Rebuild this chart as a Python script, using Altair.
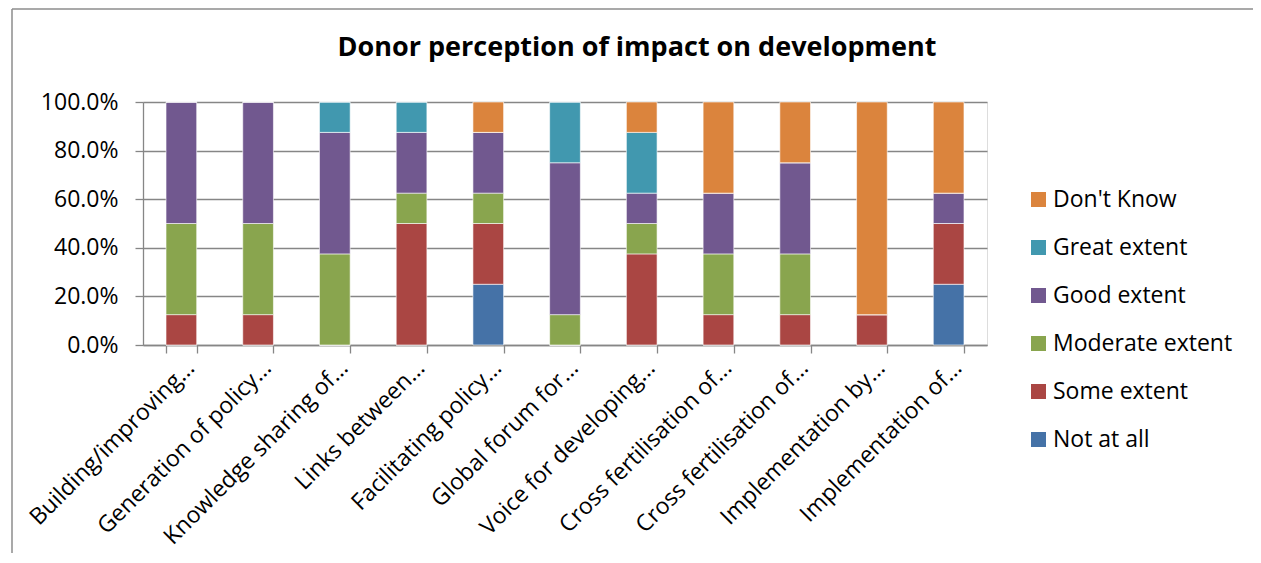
import altair as alt
import pandas as pd

categories = [
    "Building/improving...", "Generation of policy...", "Knowledge sharing of...",
    "Links between...", "Facilitating policy...", "Global forum for...",
    "Voice for developing...", "Cross fertilisation of... ", "Cross fertilisation of...",
    "Implementation by...", "Implementation of...",
]
series = ["Not at all", "Some extent", "Moderate extent", "Good extent", "Great extent", "Don't Know"]
colors = ["#4572A7", "#AA4643", "#89A54E", "#71588F", "#4198AF", "#DB843D"]

not_at_all = [0, 0, 0, 0, 25, 0, 0, 0, 0, 0, 25]
some_extent = [12.5, 12.5, 0, 50, 25, 0, 37.5, 12.5, 12.5, 12.5, 25]
moderate_extent = [37.5, 37.5, 37.5, 12.5, 12.5, 12.5, 12.5, 25, 25, 0, 0]
good_extent = [50, 50, 50, 25, 25, 62.5, 12.5, 25, 37.5, 0, 12.5]
great_extent = [0, 0, 12.5, 12.5, 0, 25, 25, 0, 0, 0, 0]
dont_know = [0, 0, 0, 0, 12.5, 0, 12.5, 37.5, 25, 87.5, 37.5]

values = [not_at_all, some_extent, moderate_extent, good_extent, great_extent, dont_know]

rows = []
for si, (s, vals) in enumerate(zip(series, values)):
    for ci, (c, v) in enumerate(zip(categories, vals)):
        rows.append({"category": c, "series": s, "order": si, "value": v / 100.0})
df = pd.DataFrame(rows)

FONT = "Open Sans"

bars = alt.Chart(df).mark_bar(stroke="white", strokeWidth=0.6).encode(
    x=alt.X("category:N", sort=categories,
            scale=alt.Scale(paddingInner=0.6, paddingOuter=0.3),
            axis=alt.Axis(title=None, labelAngle=-45, labelAlign="right", labelBaseline="middle",
                          labelFontSize=23, labelFont=FONT, labelColor="#000000",
                          labelPadding=11, labelOffset=9, labelLimit=400,
                          tickBand="extent", tickSize=8, tickColor="#868686", tickWidth=1.3,
                          domainColor="#868686", domainWidth=1.3, grid=False)),
    y=alt.Y("value:Q", stack="zero",
            scale=alt.Scale(domain=[0, 1]),
            axis=alt.Axis(title=None, format=".1%", values=[0, 0.2, 0.4, 0.6, 0.8, 1.0],
                          labelFontSize=23, labelFont=FONT, labelColor="#000000",
                          labelPadding=17, tickSize=8, tickColor="#868686", tickWidth=1.3,
                          domainColor="#868686", domainWidth=1.3,
                          gridColor="#868686", gridWidth=1.3)),
    color=alt.Color("series:N",
                    scale=alt.Scale(domain=series[::-1], range=colors[::-1]),
                    legend=alt.Legend(title=None, orient="none", legendX=884, legendY=86,
                                      symbolType="square", symbolSize=225, symbolStrokeWidth=0,
                                      labelFontSize=23, labelFont=FONT, labelColor="#000000",
                                      labelLimit=400, rowPadding=24, labelOffset=3)),
    order=alt.Order("order:Q", sort="ascending"),
)

# outer chart frame (left and top edges, as in the reference)
frame_df = pd.DataFrame({"k": [0]})
frame_left = alt.Chart(frame_df).mark_rule(color="#8c8c8c", strokeWidth=1.5).encode(
    x=alt.value(-131), y=alt.value(-93), y2=alt.value(480))
frame_top = alt.Chart(frame_df).mark_rule(color="#8c8c8c", strokeWidth=1.5).encode(
    x=alt.value(-131), x2=alt.value(1140), y=alt.value(-93))

chart = alt.layer(bars, frame_left, frame_top).properties(
    width=844, height=243,
    title=alt.Title("Donor perception of impact on development", fontSize=27, font=FONT,
                    fontWeight="bold", color="#000000", dx=72, offset=-54),
    autosize=alt.AutoSizeParams(type="none"),
    padding={"left": 135, "top": 94, "right": 266, "bottom": 208},
).configure_view(stroke=None).configure(background="white")

chart.save("out.html", embed_options={"renderer": "svg", "actions": False})
